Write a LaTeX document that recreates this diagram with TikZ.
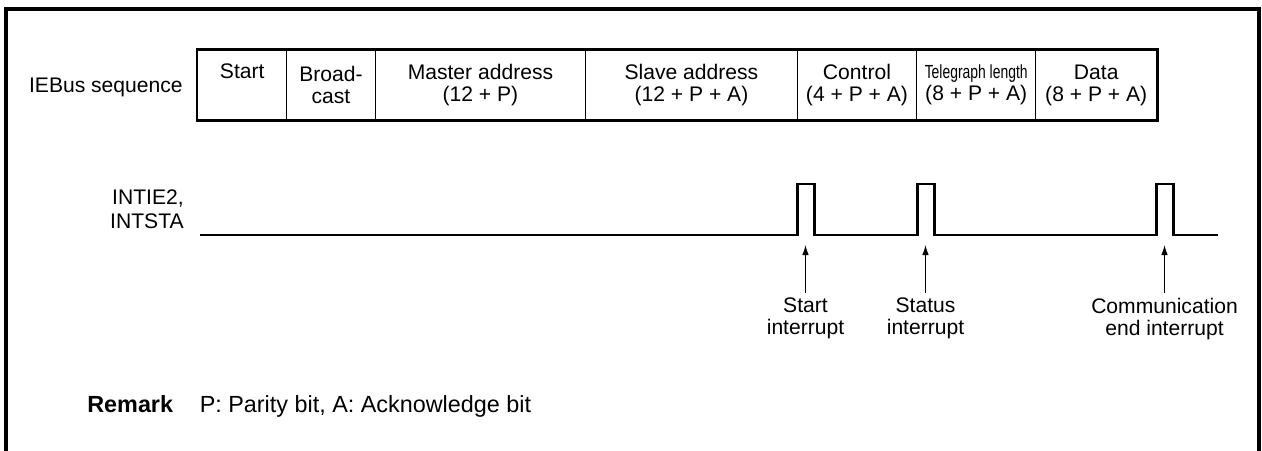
\documentclass[tikz,border=0pt]{standalone}
\usepackage{fontspec}
\setsansfont{Liberation Sans}
\usepackage{graphicx}
\usepackage{tikz}
\usetikzlibrary{arrows.meta, positioning}

\begin{document}
\begin{tikzpicture}[
    every node/.style={font=\sffamily\fontsize{12}{12.5}\selectfont, inner sep=0pt},
    cell/.style={rectangle, draw, line width=0.8pt, anchor=west, minimum height=1.4cm, align=center},
    siglabel/.style={anchor=south east, align=right, font=\sffamily\fontsize{12}{14}\selectfont},
    irqlabel/.style={anchor=north, align=center},
    remarklabel/.style={font=\sffamily\fontsize{13.3}{15}\selectfont},
    signal/.style={line width=1.7pt, line join=miter},
    irqarrow/.style={-{Latex[length=2mm, width=1.3mm]}, line width=0.6pt},
]
\useasboundingbox (0,0) rectangle (25.24,9);
% frame, open at the bottom
\draw[line width=1.8pt, line join=miter] (0.12,-0.2) -- (0.12,8.82) -- (25.18,8.82) -- (25.18,-0.2);
% IEBus sequence
\node[cell, minimum width=1.78cm] (cStart) at (3.94,7.3) {Start\\\strut};
\node[cell, minimum width=1.77cm] (cBcast) at (5.72,7.3) {Broad-\\cast};
\node[cell, minimum width=4.21cm] (cMaster) at (7.49,7.3) {Master address\\(12 + P)};
\node[cell, minimum width=4.23cm] (cSlave) at (11.70,7.3) {Slave address\\(12 + P + A)};
\node[cell, minimum width=2.39cm] (cCtrl) at (15.93,7.3) {Control\\(4 + P + A)};
\node[cell, minimum width=2.38cm] (cLen) at (18.32,7.3) {\scalebox{0.66}[0.9]{Telegraph length}\\(8 + P + A)};
\node[cell, minimum width=2.42cm] (cData) at (20.70,7.3) {Data\\(8 + P + A)};
\draw[line width=1.7pt] (cStart.north west) rectangle (cData.south east);
\node[anchor=east] (seqlabel) at (3.66,7.26) {IEBus sequence};
% interrupt signal
\node[siglabel] (siglabel) at (3.68,4.41) {INTIE2,\\INTSTA};
\coordinate (sigStart) at (4.0,4.3);
\coordinate (sigEnd) at (24.36,4.3);
\coordinate (p1) at (16.11,4.3);
\coordinate (p2) at (18.51,4.3);
\coordinate (p3) at (23.29,4.3);
\draw[signal] (sigStart) -- ([xshift=-0.17cm]p1) -- ++(0,1.02) -- ++(0.34,0) -- ++(0,-1.02)
    -- ([xshift=-0.17cm]p2) -- ++(0,1.02) -- ++(0.34,0) -- ++(0,-1.02)
    -- ([xshift=-0.17cm]p3) -- ++(0,1.02) -- ++(0.34,0) -- ++(0,-1.02) -- (sigEnd);
\node[irqlabel] (irqStart) at (16.11,3.05) {Start\\interrupt};
\node[irqlabel] (irqStatus) at (18.51,3.05) {Status\\interrupt};
\node[irqlabel] (irqEnd) at (23.29,3.05) {Communication\\end interrupt};
\draw[irqarrow] ([yshift=0.09cm]irqStart.north) -- ([yshift=-0.2cm]p1);
\draw[irqarrow] ([yshift=0.09cm]irqStatus.north) -- ([yshift=-0.2cm]p2);
\draw[irqarrow] ([yshift=0.09cm]irqEnd.north) -- ([yshift=-0.2cm]p3);
% remark
\node[remarklabel, anchor=base west] (remark) at (1.74,0.75) {\bfseries Remark};
\node[remarklabel, base right=0.52cm of remark] (remarktext) {P: Parity bit, A: Acknowledge bit};
\end{tikzpicture}
\end{document}
